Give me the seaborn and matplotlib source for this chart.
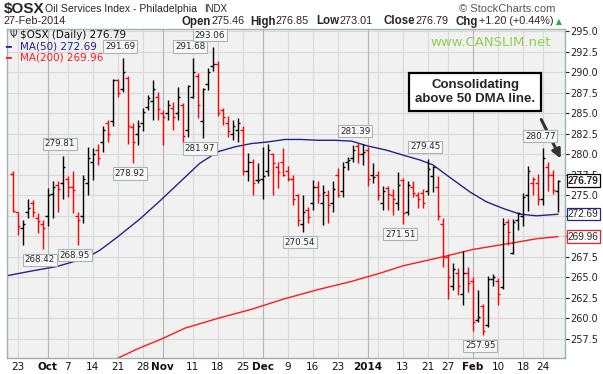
import numpy as np
import matplotlib
matplotlib.use('Agg')
import matplotlib.pyplot as plt
import seaborn as sns

# daily OHLC, 20-Sep-2013 .. 27-Feb-2014 (one row per trading day)
opens = [277.6, 272.9, 271.0, 273.0, 274.0, 272.2, 271.5, 272.5, 275.2, 276.2,
         276.5, 277.0, 276.0, 272.5, 272.5, 276.5, 279.0, 280.5, 281.5, 283.8,
         284.0, 289.0, 288.0, 289.3, 283.3, 282.5, 283.8, 285.8, 286.5, 287.0,
         285.0, 285.0, 285.6, 285.0, 286.0, 283.0, 287.0, 289.5, 284.0, 288.5,
         290.8, 291.0, 285.4, 283.8, 282.5, 283.0, 283.0, 278.0, 279.0, 276.8,
         277.0, 278.0, 280.0, 278.5, 279.0, 278.0, 277.0, 275.0, 271.5, 273.2,
         274.0, 276.0, 274.0, 275.0, 274.0, 277.5, 275.5, 279.0, 279.5, 281.0,
         280.0, 280.5, 277.5, 277.5, 274.0, 275.9, 275.0, 274.0, 276.8, 273.0,
         276.0, 275.0, 275.3, 275.5, 277.3, 276.0, 271.5, 267.5, 264.0, 265.5,
         263.0, 265.5, 264.5, 259.8, 261.5, 259.2, 264.8, 264.5, 263.8, 271.8,
         268.0, 272.0, 272.5, 275.0, 276.5, 276.5, 274.5, 278.5, 277.5, 275.46]
highs = [277.9, 273.0, 272.0, 274.6, 274.4, 272.8, 272.0, 275.9, 276.7, 276.7,
         279.81, 277.3, 277.9, 272.9, 277.5, 280.9, 280.7, 281.3, 283.4, 284.2,
         289.2, 289.2, 291.69, 289.5, 283.8, 284.2, 285.6, 287.2, 289.0, 287.6,
         285.4, 286.6, 286.4, 288.2, 286.2, 288.4, 291.68, 289.9, 288.1, 290.5,
         293.06, 291.3, 285.6, 284.7, 284.2, 284.4, 283.4, 280.2, 279.4, 278.9,
         280.9, 281.3, 280.1, 279.1, 280.7, 278.6, 277.5, 275.2, 275.0, 273.6,
         276.9, 276.7, 276.3, 275.6, 276.7, 278.3, 279.1, 279.7, 281.1, 281.39,
         281.2, 280.9, 278.9, 277.9, 276.1, 276.1, 275.8, 277.8, 277.1, 276.7,
         276.7, 275.4, 275.8, 279.45, 278.6, 277.3, 272.2, 267.8, 266.7, 266.1,
         268.2, 266.2, 265.1, 263.5, 261.8, 265.2, 265.4, 264.9, 272.2, 272.1,
         272.1, 273.0, 275.3, 278.6, 277.2, 277.6, 280.77, 279.1, 278.1, 276.85]
lows = [272.9, 270.2, 268.9, 272.2, 272.4, 270.4, 268.42, 271.2, 272.2, 273.0,
        274.6, 274.8, 272.8, 268.95, 271.6, 275.0, 276.9, 278.7, 280.3, 281.5,
        283.4, 287.0, 287.6, 281.3, 278.92, 281.1, 282.8, 285.4, 284.2, 284.2,
        281.1, 284.2, 283.0, 284.2, 281.3, 282.1, 286.9, 284.4, 281.97, 287.8,
        290.2, 284.7, 283.6, 282.1, 281.7, 281.5, 277.5, 276.7, 275.0, 276.5,
        274.5, 277.3, 275.0, 275.9, 277.3, 276.7, 273.8, 271.2, 270.54, 271.6,
        273.2, 274.0, 271.4, 271.6, 273.0, 274.8, 274.8, 278.1, 279.1, 278.9,
        278.7, 276.1, 276.5, 274.4, 273.2, 273.2, 272.6, 273.2, 271.51, 272.6,
        274.8, 273.4, 273.4, 275.0, 275.4, 272.0, 266.3, 262.4, 263.5, 262.8,
        261.6, 263.2, 258.4, 259.5, 257.95, 259.0, 263.9, 261.6, 263.6, 269.0,
        267.9, 270.8, 271.3, 273.1, 275.0, 273.8, 273.8, 275.5, 275.2, 273.01]
closes = [273.1, 271.2, 271.5, 273.4, 273.0, 271.9, 271.0, 275.0, 276.0, 275.8,
          278.5, 276.0, 275.6, 272.0, 277.0, 279.5, 280.0, 279.6, 283.0, 282.5,
          289.0, 287.5, 290.0, 283.5, 281.5, 283.5, 285.2, 286.8, 288.0, 285.5,
          284.5, 286.0, 284.5, 287.0, 282.2, 288.3, 290.0, 286.0, 288.0, 290.0,
          291.0, 285.0, 284.5, 282.8, 283.5, 283.8, 278.0, 279.0, 276.5, 276.9,
          277.4, 280.5, 278.9, 277.8, 277.5, 277.0, 274.5, 272.0, 273.0, 272.3,
          276.0, 275.0, 275.4, 273.8, 275.8, 275.0, 278.5, 279.3, 280.5, 280.0,
          280.3, 277.0, 277.2, 275.0, 275.5, 275.2, 274.6, 276.3, 272.8, 276.2,
          275.3, 274.5, 274.0, 278.2, 278.4, 272.5, 267.5, 265.0, 266.0, 264.0,
          265.5, 264.3, 259.5, 260.2, 258.5, 264.8, 265.0, 263.0, 271.5, 270.5,
          271.8, 272.8, 274.8, 278.0, 277.0, 274.5, 279.5, 277.5, 275.59, 276.79]

# moving averages (bar position, value)
ma50_pos = [-1.1, 4, 8.7, 12.7, 15.4, 17.4, 20.7, 25.4, 29.4, 33.4, 37.4, 41, 44.4,
            47.7, 51, 54.4, 57.7, 61, 64.4, 67.7, 71, 74.7, 78, 81.4, 84, 88, 91.4,
            94.7, 98, 101.4, 104.7, 107, 109]
ma50_val = [265.2, 265.8, 266.3, 267.0, 267.6, 268.3, 269.8, 272.1, 274.3, 276.6,
            278.9, 280.3, 280.9, 281.3, 281.5, 281.8, 281.8, 281.7, 281.7, 281.6,
            281.0, 280.5, 279.9, 279.3, 278.7, 276.9, 275.4, 274.2, 273.4, 272.7,
            272.5, 272.6, 272.69]
ma200_pos = [20.5, 25, 29.8, 34.4, 41, 47.7, 54.4, 61, 67.7, 73.4, 78, 86.7, 92,
             100, 104.7, 109]
ma200_val = [255.0, 256.3, 257.5, 258.8, 260.0, 261.1, 262.4, 263.5, 264.5, 265.5,
             266.4, 267.6, 268.4, 269.2, 269.7, 269.96]

# x axis labels
tick_pos = [1, 7, 11, 16, 21, 26, 30, 36, 41, 46, 50, 55, 60, 65, 71, 78, 83, 87,
            92, 97, 102, 106]
tick_lab = ['23', 'Oct', '7', '14', '21', '28', 'Nov', '11', '18', '25', 'Dec', '9',
            '16', '23', '2014', '13', '21', '27', 'Feb', '10', '18', '24']
month_lab = ['Oct', 'Nov', 'Dec', '2014', 'Feb']

peaks = [(10, 279.81), (22, 291.69), (36, 291.68), (40, 293.06), (69, 281.39),
         (83, 279.45), (106, 280.77)]
troughs = [(6, 268.42), (13, 268.95), (24, 278.92), (38, 281.97), (58, 270.54),
           (78, 271.51), (94, 257.95)]

sns.set_style('white')
plt.rcParams['font.family'] = ['DejaVu Sans']
ARIAL = ['Liberation Sans', 'DejaVu Sans']

W, H = 603, 374
fig = plt.figure(figsize=(W / 100, H / 100), dpi=100)
fig.patch.set_facecolor('white')


def fp(x, y):
    return x / W, 1 - y / H


ax = fig.add_axes([7 / W, 1 - 358 / H, 558 / W, 329 / H])
ax.set_facecolor('#f1f1f1')
ax.set_xlim(-1.15, 110.4)
ax.set_ylim(255.17, 295.26)

# grid
for y in np.arange(257.5, 295.1, 2.5):
    ax.axhline(y, color='#d9d9d9', lw=0.8, zorder=0)
for p, lab in zip(tick_pos + [73], tick_lab + ['']):
    c = '#b4b4b4' if lab in month_lab else '#d9d9d9'
    ax.axvline(p, color=c, lw=0.8, zorder=0)

# OHLC bars
idx = np.arange(len(closes))
o, h, l, c = map(np.array, (opens, highs, lows, closes))
up = np.r_[False, c[1:] > c[:-1]]
cols = np.where(up, 'black', '#ff0000')
ax.vlines(idx, l, h, colors=cols, lw=1.0, zorder=3)
ax.hlines(o, idx - 0.5, idx, colors=cols, lw=1.0, zorder=3)
ax.hlines(c, idx, idx + 0.5, colors=cols, lw=1.0, zorder=3)

# moving averages
sns.lineplot(x=ma50_pos, y=ma50_val, color='#23238e', lw=1.0, ax=ax, zorder=2)
sns.lineplot(x=ma200_pos, y=ma200_val, color='#ff1a1a', lw=1.0, ax=ax, zorder=2)

# value callouts
box = dict(boxstyle='square,pad=0.18', fc='#f8f8f8', ec='#a9b5b5', lw=0.8)
for i, v in peaks:
    ax.annotate(f'{v:.2f}', xy=(i, v), xytext=(-2, 8.5), textcoords='offset points',
                ha='center', va='center', fontsize=6.3, bbox=box, zorder=6)
for i, v in troughs:
    ax.annotate(f'{v:.2f}', xy=(i, v), xytext=(-2, -7.5), textcoords='offset points',
                ha='center', va='center', fontsize=6.3, bbox=box, zorder=6)

# axes (270.0 and 272.5 sit under the MA tags, as in the original)
yt = np.arange(257.5, 295.1, 2.5)
ax.yaxis.tick_right()
ax.set_yticks(yt)
ax.set_yticklabels(['' if v in (270.0, 272.5) else f'{v:.1f}' for v in yt])
ax.tick_params(axis='y', length=3, pad=1, labelsize=7, colors='#222222', width=0.8)
ax.set_xticks(tick_pos)
ax.set_xticklabels(tick_lab)
for t in ax.get_xticklabels():
    if t.get_text() in month_lab:
        t.set_fontweight('bold')
ax.set_xticks(idx, minor=True)
ax.tick_params(axis='x', which='major', length=0, pad=3, labelsize=7.5, colors='#111111')
ax.tick_params(axis='x', which='minor', length=1.5, color='#9aa', width=0.6)
for s in ax.spines.values():
    s.set_color('#9fb2b2')
    s.set_linewidth(1.0)
ax.set_xlabel('')
ax.set_ylabel('')

# right side tags
tags = [(276.79, 'black', 'bold'), (272.69, '#23238e', 'normal'),
        (269.96, '#ff1a1a', 'normal')]
for v, ec, fw in tags:
    ax.annotate(f'{v:.2f}', xy=(1, v), xycoords=('axes fraction', 'data'),
                xytext=(2, 0), textcoords='offset points', va='center', ha='left',
                fontsize=7.2, fontweight=fw, family=ARIAL, annotation_clip=False,
                zorder=8,
                bbox=dict(boxstyle='square,pad=0.12', fc='white', ec=ec, lw=0.9))

# legend inside plot
fig.text(*fp(9, 35.5), 'Ψ', fontsize=7, va='center', color='#333333')
fig.text(*fp(20, 35.5), '$OSX (Daily) 276.79', fontsize=7.5, va='center',
         color='#111111')
fig.text(*fp(5, 46.5), '━', fontsize=7, va='center', color='#23238e')
fig.text(*fp(20, 46.5), 'MA(50) 272.69', fontsize=7.5, va='center', color='#23238e')
fig.text(*fp(5, 57), '━', fontsize=7, va='center', color='#ff1a1a')
fig.text(*fp(20, 57), 'MA(200) 269.96', fontsize=7.5, va='center', color='#ff1a1a')

fig.text(*fp(491, 43), 'www.CANSLIM.net', fontsize=9.5, va='center', ha='center',
         color='#8fd14f')

# header
fig.text(*fp(4, 9), '$OSX', fontsize=11, fontweight='bold', family=ARIAL, va='center')
fig.text(*fp(45, 9.5), 'Oil Services Index - Philadelphia', fontsize=7.6,
         family=ARIAL, va='center')
fig.text(*fp(204, 9.5), 'INDX', fontsize=7, family=ARIAL, va='center')
fig.text(*fp(555, 9.5), '© StockCharts.com', fontsize=8, family=ARIAL, va='center',
         ha='right', color='#555555')
fig.text(*fp(4, 21.5), '27-Feb-2014', fontsize=7.8, family=ARIAL, va='center')
parts = [(181, 'Open', True), (211, '275.46', False), (250, 'High', True),
         (275, '276.85', False), (316, 'Low', True), (340, '273.01', False),
         (383, 'Close', True), (415, '276.79', False), (456, 'Chg', True),
         (479, '+1.20 (+0.44%)', False)]
for x, s, b in parts:
    fig.text(*fp(x, 21.5), s, fontsize=8.3 if b else 7.8, family=ARIAL,
             fontweight='bold' if b else 'normal', va='center')
fig.text(*fp(556, 21.5), '▲', fontsize=5.5, va='center', color='#1fae3a')

# comment box with arrow
fig.text(*fp(475, 92), 'Consolidating\nabove 50 DMA line.', fontsize=9.5,
         family=ARIAL, fontweight='bold', ha='center', va='center', linespacing=1.25,
         bbox=dict(boxstyle='square,pad=0.45', fc='white', ec='black', lw=1.6))
ax.annotate('', xy=fp(562, 161), xytext=fp(540, 117), xycoords='figure fraction',
            textcoords='figure fraction',
            arrowprops=dict(arrowstyle='-|>', color='#333333', lw=2.2,
                            mutation_scale=13), annotation_clip=False)

fig.savefig('out.png', dpi=100)
